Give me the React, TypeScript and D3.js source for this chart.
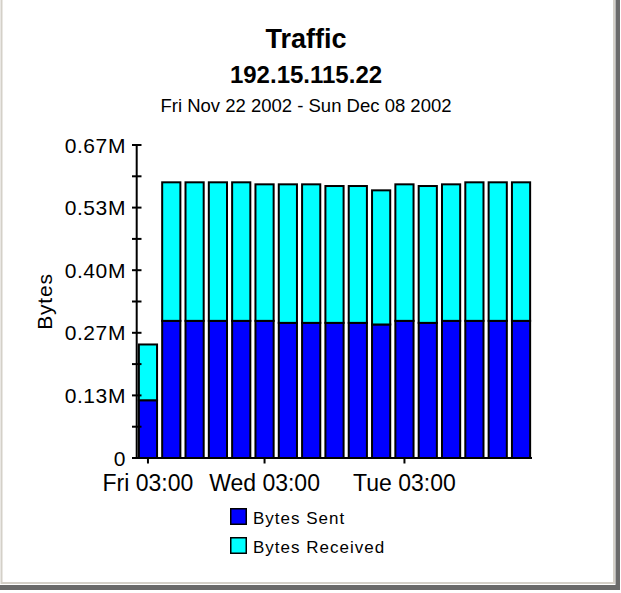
import React from "react";
import * as d3 from "d3";

// one bar per day, Fri Nov 22 2002 .. Sun Dec 08 2002
const days = [
  "Nov 22", "Nov 23", "Nov 24", "Nov 25", "Nov 26", "Nov 27", "Nov 28", "Nov 29", "Nov 30",
  "Dec 01", "Dec 02", "Dec 03", "Dec 04", "Dec 05", "Dec 06", "Dec 07", "Dec 08",
];
const bytesSent = [
  123000, 292100, 292100, 292100, 292100, 292100, 287800, 287800, 287800,
  287800, 284400, 292100, 287800, 292100, 292100, 292100, 292100,
];
const bytesReceived = [
  118800, 295100, 295100, 295100, 295100, 290800, 295100, 295100, 291500,
  291500, 285700, 290800, 291500, 290800, 295100, 295100, 295100,
];

const yTicks = [0, 133333, 266667, 400000, 533333, 666667];
const yMinorTicks = [66667, 200000, 333333, 466667, 600000];
const xTickDays = ["Nov 22", "Nov 27", "Dec 03"];
const xTickLabels = ["Fri 03:00", "Wed 03:00", "Tue 03:00"];

const keys = ["sent", "received"];
const legendNames = ["Bytes Sent", "Bytes Received"];
const colors: Record<string, string> = { sent: "#0000ff", received: "#00ffff" };

const FONT = "'Liberation Sans', Arial, Helvetica, sans-serif";

function TrafficChart() {
  const width = 621;
  const height = 593;
  const left = 137;
  const right = 532;
  const top = 145;
  const bottom = 458;

  const rows = days.map((d, i) => ({ day: d, sent: bytesSent[i], received: bytesReceived[i] }));
  const layers = d3.stack<any>().keys(keys)(rows);

  const xScale = d3.scaleBand<string>()
    .domain(days)
    .range([left, right])
    .paddingInner(0.22)
    .paddingOuter(0.08);

  const yScale = d3.scaleLinear()
    .domain([0, 666667])
    .range([bottom, top]);

  const fmt = (v: number) => (v === 0 ? "0" : (v / 1e6).toFixed(2) + "M");
  const bw = xScale.bandwidth();
  const cx = (d: string) => (xScale(d) as number) + bw / 2;

  return (
    <svg width={width} height={height} style={{ position: "absolute", left: 0, top: 0 }} fontFamily={FONT}>
      <rect x={0} y={0} width={width} height={height} fill="#ffffff" />
      {/* frame */}
      <line x1={1.5} y1={0} x2={1.5} y2={584} stroke="#d4d0c8" strokeWidth={2} />
      <line x1={1.5} y1={583} x2={615} y2={583} stroke="#d4d0c8" strokeWidth={2} />
      <line x1={614} y1={0} x2={614} y2={584} stroke="#d4d0c8" strokeWidth={2} />
      <rect x={0} y={585} width={620} height={5} fill="#6a6a6a" />
      <rect x={615.5} y={0} width={4.5} height={590} fill="#6a6a6a" />

      {/* titles */}
      <text x={306} y={48} textAnchor="middle" fontSize={27} fontWeight="bold">Traffic</text>
      <text x={306} y={83} textAnchor="middle" fontSize={24} fontWeight="bold">192.15.115.22</text>
      <text x={306} y={112} textAnchor="middle" fontSize={18.5}>Fri Nov 22 2002 - Sun Dec 08 2002</text>

      {/* bars */}
      {layers.map((layer) => (
        <g key={layer.key} fill={colors[layer.key]}>
          {layer.map((seq, i) => (
            <rect
              key={i}
              x={xScale(seq.data.day)}
              y={yScale(seq[1])}
              width={bw}
              height={yScale(seq[0]) - yScale(seq[1])}
              stroke="#000"
              strokeWidth={2}
            />
          ))}
        </g>
      ))}

      {/* y axis */}
      <line x1={136.7} y1={top} x2={136.7} y2={bottom} stroke="#000" strokeWidth={2} />
      {yTicks.concat(yMinorTicks).map((t) => (
        <line key={t} x1={132} x2={141.5} y1={yScale(t)} y2={yScale(t)} stroke="#000" strokeWidth={2} />
      ))}
      {yTicks.map((t) => (
        <text key={t} x={126} y={yScale(t) + 7.5} textAnchor="end" fontSize={21} letterSpacing={0.6}>
          {fmt(t)}
        </text>
      ))}
      <text
        transform={`translate(52, ${(top + bottom) / 2}) rotate(-90)`}
        textAnchor="middle"
        fontSize={21}
        letterSpacing={0.8}
      >
        Bytes
      </text>

      {/* x axis */}
      <line x1={132} y1={bottom} x2={right} y2={bottom} stroke="#000" strokeWidth={2} />
      {xTickDays.map((d, i) => (
        <g key={d}>
          <line x1={cx(d)} x2={cx(d)} y1={bottom} y2={bottom + 5.5} stroke="#000" strokeWidth={2} />
          <text x={cx(d)} y={491} textAnchor="middle" fontSize={23}>{xTickLabels[i]}</text>
        </g>
      ))}

      {/* legend */}
      {keys.map((k, i) => (
        <g key={k} transform={`translate(230, ${508 + i * 29})`}>
          <rect x={0.75} y={0.75} width={15.5} height={15.5} fill={colors[k]} stroke="#000" strokeWidth={1.5} />
          <text x={23} y={16} fontSize={17} letterSpacing={1}>{legendNames[i]}</text>
        </g>
      ))}
    </svg>
  );
}

export default function App() {
  return <TrafficChart />;
}
